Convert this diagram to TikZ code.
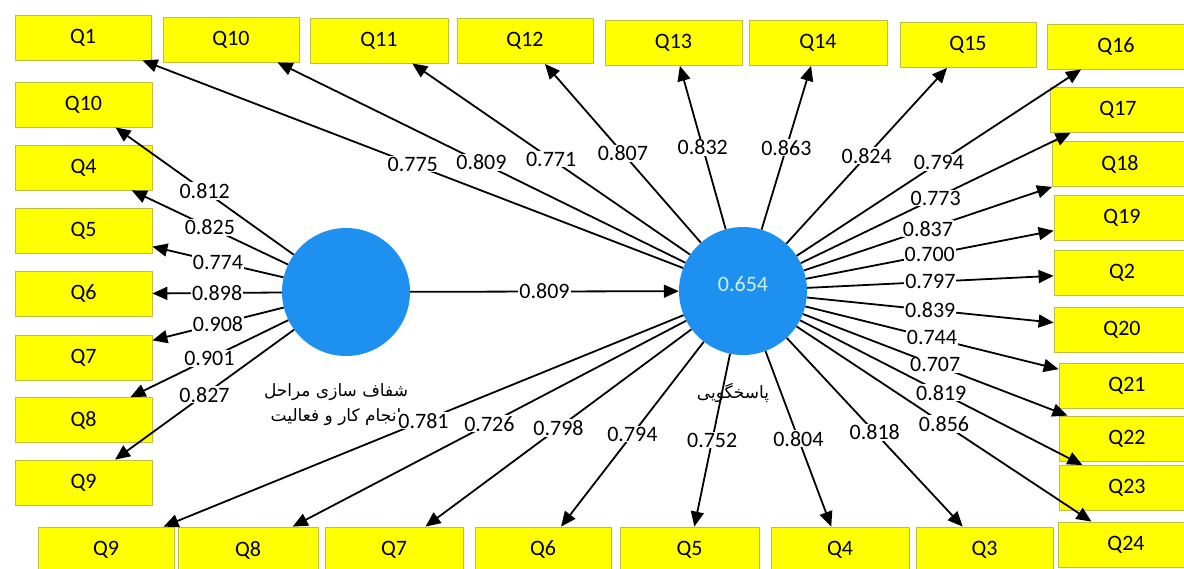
\documentclass[tikz,border=0pt]{standalone}
\usepackage{fontspec}
\setmainfont{Carlito}
\newfontfamily\arabicfont[Script=Arabic]{DejaVu Sans}
\TeXXeTstate=1
\usetikzlibrary{arrows.meta,calc}
\definecolor{boxyellow}{RGB}{255,255,0}
\definecolor{boxedge}{RGB}{190,190,70}
\definecolor{lvblue}{RGB}{30,144,240}
\definecolor{r2col}{RGB}{205,240,235}
\begin{document}
\begin{tikzpicture}[x=1pt,y=-1pt,
  item/.style={rectangle, fill=boxyellow, draw=boxedge, line width=0.8pt, minimum width=136pt, minimum height=45pt, inner sep=0pt, font=\fontsize{22}{24}\selectfont},
  lv/.style={circle, fill=lvblue, minimum size=128pt, inner sep=0pt},
  arr/.style={line width=1.8pt, -{Triangle[length=15pt,width=13pt]}},
  lbl/.style={fill=white, inner sep=1pt, font=\fontsize{22}{24}\selectfont},
  fa/.style={font=\arabicfont\fontsize{17}{25}\selectfont, align=center, inner sep=0pt}]
\fill[white] (0,0) rectangle (1184,568);
\useasboundingbox (0,0) rectangle (1184,568);
\clip (0,0) rectangle (1184,568);
% top row
\node[item] (q1) at (83,37.5) {Q1};
\node[item] (q10t) at (231,39.5) {Q10};
\node[item, minimum width=138pt] (q11) at (379,40.5) {Q11};
\node[item] (q12) at (525,41) {Q12};
\node[item, minimum width=137pt] (q13) at (673.5,43) {Q13};
\node[item, minimum width=138pt] (q14) at (818,43) {Q14};
\node[item] (q15) at (968,45) {Q15};
\node[item, minimum width=138pt] (q16) at (1116,46.5) {Q16};
% left column
\node[item, minimum width=137pt] (l10) at (83.5,104.5) {Q10};
\node[item, minimum width=137pt] (l4) at (83.5,167.5) {Q4};
\node[item, minimum width=137pt] (l5) at (83.5,230.5) {Q5};
\node[item, minimum width=137pt] (l6) at (83.5,294) {Q6};
\node[item, minimum width=137pt] (l7) at (83.5,357.5) {Q7};
\node[item, minimum width=137pt] (l8) at (83.5,420) {Q8};
\node[item, minimum width=137pt] (l9) at (83.5,482.5) {Q9};
% right column
\node[item] (q17) at (1118,110) {Q17};
\node[item] (q18) at (1120,164) {Q18};
\node[item] (q19) at (1122,217.5) {Q19};
\node[item] (q2) at (1122,272.5) {Q2};
\node[item] (q20) at (1122,329.5) {Q20};
\node[item] (q21) at (1127,386) {Q21};
\node[item] (q22) at (1127,438.5) {Q22};
\node[item] (q23) at (1127,488) {Q23};
\node[item] (q24) at (1126,544.5) {Q24};
% bottom row
\node[item, minimum height=46pt] (b9) at (106,550) {Q9};
\node[item, minimum height=46pt, minimum width=140pt] (b8) at (248,550) {Q8};
\node[item, minimum height=46pt, minimum width=138pt] (b7) at (394,550) {Q7};
\node[item, minimum height=46pt] (b6) at (543,550) {Q6};
\node[item, minimum height=46pt, minimum width=139pt] (b5) at (689.5,550) {Q5};
\node[item, minimum height=46pt, minimum width=138pt] (b4) at (840,550) {Q4};
\node[item, minimum height=46pt, minimum width=137pt] (b3) at (984.5,550) {Q3};
% latent variables
\node[lv] (L) at (346,292) {};
\node[lv] (R) at (743,291) {};
\node[text=r2col, font=\fontsize{22}{24}\selectfont, inner sep=0pt] (r2) at (743,284) {0.654};
\node[fa] (nL) at (336,405) {\beginR شفاف سازی مراحل\endR\\\beginR انجام کار و فعالیت\endR};
\node[fa] (nR) at (733,393) {\beginR پاسخگویی\endR};
\def\links{L/R/0.809, L/l10/0.812, L/l4/0.825, L/l5/0.774, L/l6/0.898, L/l7/0.908, L/l8/0.901, L/l9/0.827, R/q1/0.775, R/q10t/0.809, R/q11/0.771, R/q12/0.807, R/q13/0.832, R/q14/0.863, R/q15/0.824, R/q16/0.794, R/q17/0.773, R/q18/0.837, R/q19/0.700, R/q2/0.797, R/q20/0.839, R/q21/0.744, R/q22/0.707, R/q23/0.819, R/q24/0.856, R/b3/0.818, R/b4/0.804, R/b5/0.752, R/b6/0.794, R/b7/0.798, R/b8/0.726, R/b9/0.781}
\foreach \a/\b/\v in \links {\draw[arr] (\a) -- (\b);}
\foreach \a/\b/\v in \links {\path (\a) -- node[lbl] {\v} (\b);}
\end{tikzpicture}
\end{document}
